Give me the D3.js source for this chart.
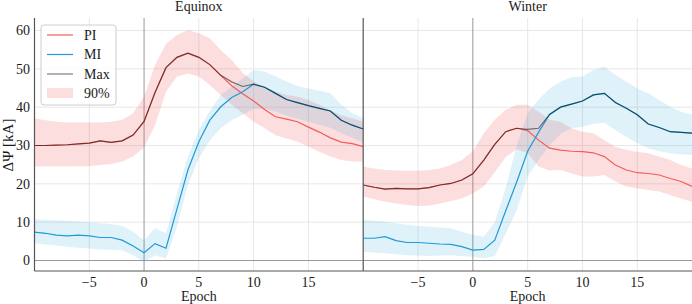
<!DOCTYPE html>
<html>
<head>
<meta charset="utf-8">
<script src="https://cdn.jsdelivr.net/npm/d3@7"></script>
<style>
  body { margin: 0; background: #fff; }
  text { font-family: "Liberation Serif", "DejaVu Serif", serif; fill: #1a1a1a; }
</style>
</head>
<body>
<div id="chart"></div>
<script>
// epochs -10 .. 20
var epochs = d3.range(-10, 21);
var xTicks = [-5, 0, 5, 10, 15];
var yTicks = [0, 10, 20, 30, 40, 50, 60];
var panelNames = ["Equinox", "Winter"];

var eqPI   = [30.0,30.0,30.1,30.2,30.4,30.6,31.2,30.8,31.2,32.7, 36.3,43.8,50.3,53.0,54.1,53.0,51.1,48.3,45.6,43.5,41.6,39.4,37.5,36.9,36.2,34.8,33.5,32.0,30.9,30.5,29.7];
var eqPIlo = [24.5,24.5,24.5,24.5,24.6,24.6,24.9,25.2,25.8,27.1, 29.5,35.3,44.0,48.0,48.8,48.0,45.8,43.2,40.6,38.4,36.2,34.5,32.7,31.8,31.0,29.7,28.4,27.1,26.2,25.8,25.8];
var eqPIhi = [37.1,36.6,36.2,36.0,36.0,36.0,36.0,36.2,36.7,38.4, 42.7,51.0,56.5,58.8,60.1,59.3,58.0,54.9,52.3,49.0,46.7,45.3,44.0,43.2,42.7,41.9,40.6,39.2,37.9,37.1,36.2];
var eqMI   = [7.4,7.1,6.6,6.4,6.6,6.4,6.0,6.0,5.3,3.8, 2.0,4.4,3.2,13.4,23.6,31.0,36.6,40.1,42.5,44.0,46.0,45.2,43.6,42.0,41.2,40.4,39.7,39.0,36.6,35.3,34.3];
var eqMIlo = [4.5,4.2,3.9,3.6,3.3,3.1,2.9,2.8,2.7,1.4, -0.3,1.4,0.6,8.8,19.7,26.7,31.4,34.5,36.6,38.0,39.5,39.5,38.8,37.8,37.0,36.2,35.4,34.6,33.2,32.0,30.8];
var eqMIhi = [10.7,10.6,10.5,10.4,10.2,10.0,9.7,9.5,9.0,7.5, 5.3,8.4,7.1,17.5,27.1,34.0,39.0,43.2,45.3,47.5,49.7,49.3,48.0,46.7,45.5,44.9,44.3,43.6,40.6,38.4,37.1];
var eqMax  = [30.0,30.0,30.1,30.2,30.4,30.6,31.2,30.8,31.2,32.7, 36.3,43.8,50.3,53.0,54.1,53.0,51.1,48.3,46.6,45.4,46.0,45.2,43.6,42.0,41.2,40.4,39.7,39.0,36.6,35.3,34.3];

var wiPI   = [19.7,19.1,18.6,18.8,18.7,18.7,19.0,19.7,20.1,21.0, 22.6,26.2,30.3,33.6,34.5,33.9,31.4,29.3,28.8,28.5,28.4,28.1,27.1,24.9,23.6,22.9,22.7,22.3,21.4,20.6,19.3];
var wiPIlo = [16.7,16.0,15.3,14.9,14.5,14.2,14.3,14.9,15.5,16.2, 17.5,19.3,23.0,27.0,29.0,28.0,24.5,23.5,23.6,22.7,21.9,21.9,22.3,20.6,19.3,18.8,18.4,18.0,17.1,16.2,15.3];
var wiPIhi = [24.5,24.0,23.6,23.5,23.4,23.4,23.6,24.0,24.9,26.2, 28.5,33.2,36.7,39.3,40.6,40.6,38.8,36.7,36.2,34.5,33.6,33.2,31.4,29.7,28.8,28.4,28.0,27.1,26.2,24.9,24.0];
var wiMI   = [5.8,5.8,6.2,5.2,4.7,4.7,4.5,4.3,4.2,3.6, 2.7,2.9,5.3,13.0,20.5,28.5,33.5,38.1,40.0,40.8,41.6,43.2,43.6,41.2,39.7,38.0,35.6,34.7,33.6,33.4,33.2];
var wiMIlo = [2.3,2.1,1.9,1.6,1.4,1.3,1.2,1.3,1.4,1.2, 1.0,0.6,1.2,7.0,13.2,21.9,26.2,30.0,33.0,34.5,34.9,35.6,36.0,34.0,32.3,30.6,29.3,28.5,28.0,27.7,27.5];
var wiMIhi = [10.6,10.4,10.1,9.7,9.3,9.0,8.8,8.6,8.4,7.5, 6.7,6.2,10.0,19.0,30.0,38.4,42.0,44.9,46.7,47.8,48.0,49.7,50.6,48.4,46.7,44.9,43.6,41.9,40.1,38.8,38.0];
var wiMax  = [19.7,19.1,18.6,18.8,18.7,18.7,19.0,19.7,20.1,21.0, 22.6,26.2,30.3,33.6,34.5,34.2,34.5,38.1,40.0,40.8,41.6,43.2,43.6,41.2,39.7,38.0,35.6,34.7,33.6,33.4,33.2];

var legendLabels = ["PI", "MI", "Max", "90%"];

var piColor = "#f45b5b",
  miColor = "#1f9bd6";

var width = 692,
  height = 304;
var plotTop = 18,
  plotBottom = 271;
var panelX = [[34.5, 363.2], [363.2, 692.1]];

var panels = [
  { name: panelNames[0], pi: eqPI, piLo: eqPIlo, piHi: eqPIhi, mi: eqMI, miLo: eqMIlo, miHi: eqMIhi, max: eqMax },
  { name: panelNames[1], pi: wiPI, piLo: wiPIlo, piHi: wiPIhi, mi: wiMI, miLo: wiMIlo, miHi: wiMIhi, max: wiMax }
];

var svg = d3.select('#chart')
  .append('svg')
  .attr('width', width)
  .attr('height', height)

var y = d3.scaleLinear().domain([0, 60]).range([260.5, 30.5]);

panels.forEach(function (p, k) {
  var x = d3.scaleLinear().domain([-10, 20]).range(panelX[k]);
  var g = svg.append('g');

  g.append('clipPath')
    .attr('id', 'clip' + k)
    .append('rect')
    .attr('x', panelX[k][0])
    .attr('y', plotTop)
    .attr('width', panelX[k][1] - panelX[k][0])
    .attr('height', plotBottom - plotTop);

  // grid
  g.selectAll('.hgrid')
    .data(yTicks).enter()
    .append('line')
    .attr('x1', panelX[k][0]).attr('x2', panelX[k][1])
    .attr('y1', d => y(d)).attr('y2', d => y(d))
    .style('stroke', '#e4e4e4').style('stroke-width', 0.9);

  g.selectAll('.vgrid')
    .data(xTicks.filter(d => d != 0)).enter()
    .append('line')
    .attr('x1', d => x(d)).attr('x2', d => x(d))
    .attr('y1', plotTop).attr('y2', plotBottom)
    .style('stroke', '#e4e4e4').style('stroke-width', 0.9);

  // zero lines
  g.append('line')
    .attr('x1', x(0)).attr('x2', x(0))
    .attr('y1', plotTop).attr('y2', plotBottom)
    .style('stroke', '#999').style('stroke-width', 1);
  g.append('line')
    .attr('x1', panelX[k][0]).attr('x2', panelX[k][1])
    .attr('y1', y(0)).attr('y2', y(0))
    .style('stroke', '#999').style('stroke-width', 1);

  var plot = g.append('g').attr('clip-path', 'url(#clip' + k + ')');

  var band = function (lo, hi) {
    return d3.area()
      .x((d, i) => x(d))
      .y0((d, i) => y(lo[i]))
      .y1((d, i) => y(hi[i]))(epochs);
  };
  var line = function (vals) {
    return d3.line()
      .x((d, i) => x(d))
      .y((d, i) => y(vals[i]))(epochs);
  };

  plot.append('path').attr('d', band(p.piLo, p.piHi))
    .style('fill', piColor).style('opacity', 0.2);
  plot.append('path').attr('d', band(p.miLo, p.miHi))
    .style('fill', miColor).style('opacity', 0.14);

  plot.append('path').attr('d', line(p.pi))
    .style('fill', 'none').style('stroke', piColor).style('stroke-width', 1.2);
  plot.append('path').attr('d', line(p.mi))
    .style('fill', 'none').style('stroke', miColor).style('stroke-width', 1.2);
  plot.append('path').attr('d', line(p.max))
    .style('fill', 'none').style('stroke', '#000').style('stroke-opacity', 0.5).style('stroke-width', 1.2);

  // x axis labels
  g.selectAll('.xtick')
    .data(xTicks).enter()
    .append('text')
    .attr('x', d => x(d))
    .attr('y', 286.5)
    .attr('text-anchor', 'middle')
    .style('font-size', '14px')
    .text(d => d < 0 ? '\u2212' + Math.abs(d) : d);

  g.append('text')
    .attr('x', (panelX[k][0] + panelX[k][1]) / 2)
    .attr('y', 301)
    .attr('text-anchor', 'middle')
    .style('font-size', '14px')
    .text('Epoch');

  g.append('text')
    .attr('x', (panelX[k][0] + panelX[k][1]) / 2)
    .attr('y', 11)
    .attr('text-anchor', 'middle')
    .style('font-size', '14px')
    .text(p.name);

  // left spine
  g.append('line')
    .attr('x1', panelX[k][0]).attr('x2', panelX[k][0])
    .attr('y1', plotTop).attr('y2', plotBottom)
    .style('stroke', '#555').style('stroke-width', 1.2);
});

// bottom spine
svg.append('line')
  .attr('x1', panelX[0][0]).attr('x2', panelX[1][1])
  .attr('y1', plotBottom).attr('y2', plotBottom)
  .style('stroke', '#555').style('stroke-width', 1.2);

// y axis labels
svg.selectAll('.ytick')
  .data(yTicks).enter()
  .append('text')
  .attr('x', 30)
  .attr('y', d => y(d) + 4.7)
  .attr('text-anchor', 'end')
  .style('font-size', '14px')
  .text(d => d);

svg.append('text')
  .attr('transform', 'translate(13,145) rotate(-90)')
  .attr('text-anchor', 'middle')
  .style('font-size', '15px')
  .text('\u0394\u03A8 [kA]');

//legend
var legend = svg.append('g');
legend.append('rect')
  .attr('x', 41).attr('y', 25)
  .attr('width', 75).attr('height', 80)
  .attr('rx', 3)
  .style('fill', '#fff').style('fill-opacity', 0.8)
  .style('stroke', '#c8c8c8').style('stroke-width', 0.9);

var legendColors = [piColor, miColor, '#7f7f7f'];
legend.selectAll('.lline')
  .data(legendColors).enter()
  .append('line')
  .attr('x1', 47).attr('x2', 73)
  .attr('y1', (d, i) => 35 + 19.5 * i)
  .attr('y2', (d, i) => 35 + 19.5 * i)
  .style('stroke', d => d).style('stroke-width', 1.2);

legend.append('rect')
  .attr('x', 47).attr('y', 88)
  .attr('width', 26).attr('height', 10)
  .style('fill', piColor).style('opacity', 0.2);

legend.selectAll('.ltext')
  .data(legendLabels).enter()
  .append('text')
  .attr('x', 84)
  .attr('y', (d, i) => 35 + 19.5 * i + 4.7)
  .style('font-size', '14px')
  .text(d => d);
</script>
</body>
</html>
